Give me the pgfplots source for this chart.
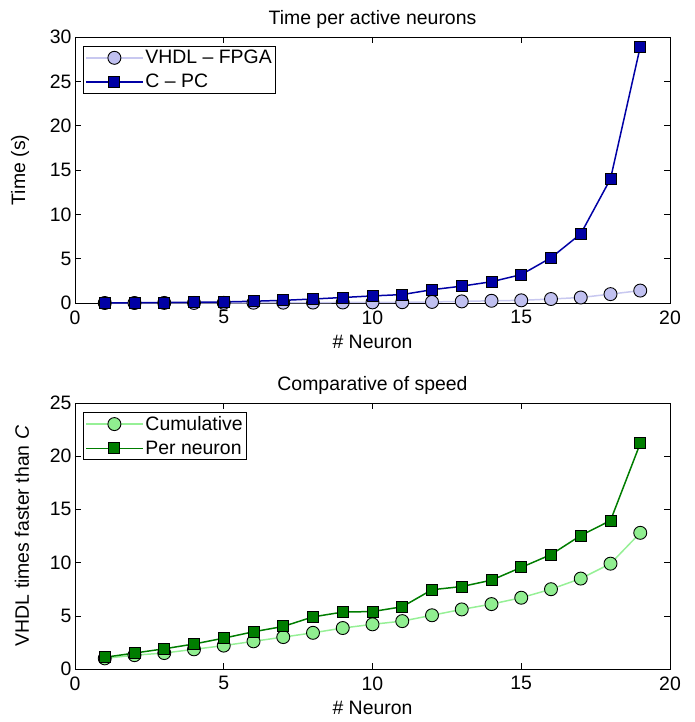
\documentclass[border=0pt]{standalone}
\usepackage{fontspec}
\setmainfont{Liberation Sans}
\usepackage{pgfplots}
\pgfplotsset{compat=1.18}

\definecolor{vhdlfill}{RGB}{192,192,240}
\definecolor{vhdlline}{RGB}{200,200,240}
\definecolor{cpc}{RGB}{0,0,165}
\definecolor{cumfill}{RGB}{144,238,144}
\definecolor{cumline}{RGB}{150,240,150}
\definecolor{pern}{RGB}{0,125,0}

\newcommand{\fs}{\fontsize{19.5}{23}\selectfont}

\pgfplotsset{
  mlab/.style={
    width=595bp, height=266bp, scale only axis,
    anchor=south west,
    xmin=0, xmax=20, xtick={0,5,...,20},
    ymin=0,
    tick align=inside, major tick length=6bp,
    axis line style={line width=0.8pt},
    every tick/.style={black, line width=0.6pt},
    /pgf/number format/assume math mode=true,
    font=\fs,
    ticklabel style={font=\fs},
    xticklabel style={yshift=-4bp},
    label style={font=\fs},
    title style={font=\fs, yshift=-1bp},
    legend cell align=left,
    legend style={at={(0,1)}, anchor=north west, xshift=8bp, yshift=-9bp,
      draw=black, line width=0.6pt, inner sep=2bp,
      font=\fs, row sep=5bp},
    legend image code/.code={
      \draw[mark repeat=2, mark phase=2] plot coordinates {(0cm,0cm) (1cm,0cm) (2cm,0cm)};},
    xlabel style={yshift=-4bp},
    ylabel style={yshift=14bp},
  },
}

\begin{document}
\begin{tikzpicture}
\path[use as bounding box] (-75bp,-419bp) rectangle (620bp,303bp);

\begin{axis}[mlab, at={(0,0)},
  ymax=30, ytick={0,5,...,30},
  title={Time per active neurons},
  xlabel={\# Neuron}, ylabel={Time (s)},
]
\addplot[color=vhdlline, line width=1.5pt, mark=*, mark size=6.5bp,
  mark options={fill=vhdlfill, draw=black, line width=0.9pt}] coordinates {
  (1,0.00) (2,0.00) (3,0.01) (4,0.01) (5,0.02) (6,0.03) (7,0.04) (8,0.05)
  (9,0.06) (10,0.07) (11,0.09) (12,0.12) (13,0.18) (14,0.25) (15,0.30)
  (16,0.45) (17,0.62) (18,1.00) (19,1.40)
};
\addlegendentry{VHDL -- FPGA}
\addplot[color=cpc, line width=1.5pt, mark=square*, mark size=5.5bp,
  mark options={fill=cpc, draw=black, line width=0.9pt}] coordinates {
  (1,0.02) (2,0.03) (3,0.05) (4,0.08) (5,0.12) (6,0.20) (7,0.30) (8,0.45)
  (9,0.62) (10,0.80) (11,0.95) (12,1.50) (13,1.90) (14,2.40) (15,3.20)
  (16,5.10) (17,7.80) (18,14.0) (19,28.9)
};
\addlegendentry{C -- PC}
\end{axis}

\begin{axis}[mlab, at={(0,-366bp)},
  ymax=25, ytick={0,5,...,25},
  title={Comparative of speed},
  xlabel={\# Neuron}, ylabel={VHDL times faster than \textit{C}},
]
\addplot[color=cumline, line width=1.5pt, mark=*, mark size=6.5bp,
  mark options={fill=cumfill, draw=black, line width=0.9pt}] coordinates {
  (1,1.00) (2,1.30) (3,1.50) (4,1.85) (5,2.20) (6,2.60) (7,3.00) (8,3.40)
  (9,3.85) (10,4.20) (11,4.50) (12,5.05) (13,5.60) (14,6.10) (15,6.70)
  (16,7.50) (17,8.50) (18,9.90) (19,12.80)
};
\addlegendentry{Cumulative}
\addplot[color=pern, line width=1.5pt, mark=square*, mark size=5.5bp,
  mark options={fill=pern, draw=black, line width=0.9pt}] coordinates {
  (1,1.10) (2,1.50) (3,1.90) (4,2.35) (5,2.90) (6,3.50) (7,4.00) (8,4.90)
  (9,5.35) (10,5.40) (11,5.85) (12,7.45) (13,7.75) (14,8.35) (15,9.55)
  (16,10.75) (17,12.55) (18,13.95) (19,21.20)
};
\addlegendentry{Per neuron}
\end{axis}
\end{tikzpicture}
\end{document}
